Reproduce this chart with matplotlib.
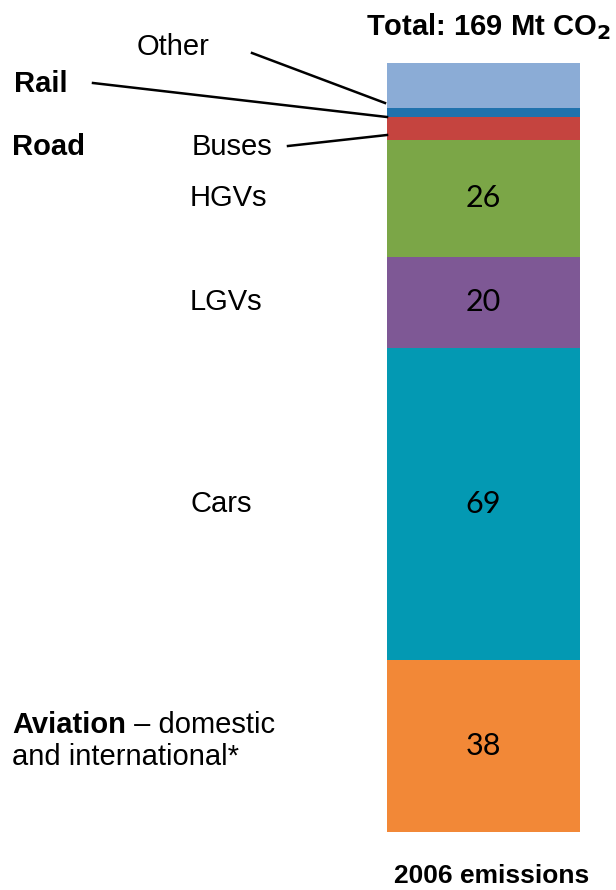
import numpy as np
import matplotlib.pyplot as plt

# 2006 UK transport emissions, Mt CO2 (bottom to top)
segments = ["Aviation", "Cars", "LGVs", "HGVs", "Buses", "Rail", "Other"]
values = [38, 69, 20, 26, 5, 2, 10]
colors = ["#F28837", "#0399B3", "#7E5895", "#7BA647", "#C5443F", "#2072AD", "#8BACD6"]
shown = ["38", "69", "20", "26", "", "", ""]

W, H = 616, 890
fig = plt.figure(figsize=(W / 100, H / 100), dpi=100)
fig.patch.set_facecolor("white")
plt.rcParams["font.family"] = ["Liberation Sans", "DejaVu Sans"]

# axes spans exactly the bar
bar_l, bar_r, bar_top, bar_bot = 387, 580, 62.7, 831.7
ax = fig.add_axes([bar_l / W, 1 - bar_bot / H, (bar_r - bar_l) / W, (bar_bot - bar_top) / H])
ax.set_xlim(-0.5, 0.5)
ax.set_ylim(0, sum(values))
ax.axis("off")

bottoms = np.concatenate([[0], np.cumsum(values)[:-1]])
ax.bar(0, values, width=1, bottom=bottoms, color=colors, edgecolor="none")
for v, b, s in zip(values, bottoms, shown):
    if s:
        ax.text(0, b + v / 2, s, ha="center", va="center", fontsize=22, family="Lato")

def fx(px):
    return px / W

def fy(py):
    return 1 - py / H

fs = 21

# segment labels aligned with the segment centres
for name in ["HGVs", "LGVs", "Cars"]:
    i = segments.index(name)
    ax.annotate(name, xy=(fx(190), bottoms[i] + values[i] / 2),
                xycoords=("figure fraction", "data"), ha="left", va="center", fontsize=fs)

fig.text(fx(137), fy(47), "Other", ha="left", va="center", fontsize=fs)
fig.text(fx(14), fy(84), "Rail", ha="left", va="center", fontsize=fs, weight="bold")
fig.text(fx(12), fy(147), "Road", ha="left", va="center", fontsize=fs, weight="bold")
fig.text(fx(192), fy(147), "Buses", ha="left", va="center", fontsize=fs)

t1 = fig.text(fx(12), fy(733), "Aviation", ha="left", va="baseline", fontsize=fs, weight="bold")
ax.annotate(" \u2013 domestic", xy=(1, 0), xycoords=t1, ha="left", va="bottom", fontsize=fs)
fig.text(fx(12), fy(765), "and international*", ha="left", va="baseline", fontsize=fs)

fig.text(fx(488), fy(35), "Total: 169 Mt CO$_\\mathbf{2}$", ha="center", va="baseline",
         fontsize=fs, weight="bold")
fig.text(fx(492), fy(883), "2006 emissions", ha="center", va="baseline", fontsize=19, weight="bold")

# leader lines
lines = [((252, 53), (385, 103)), ((93, 83), (387, 117)), ((288, 146), (387, 135))]
for (x0, y0), (x1, y1) in lines:
    fig.add_artist(plt.Line2D([fx(x0), fx(x1)], [fy(y0), fy(y1)], color="black", lw=1.8))

fig.savefig("out.png", dpi=100)
